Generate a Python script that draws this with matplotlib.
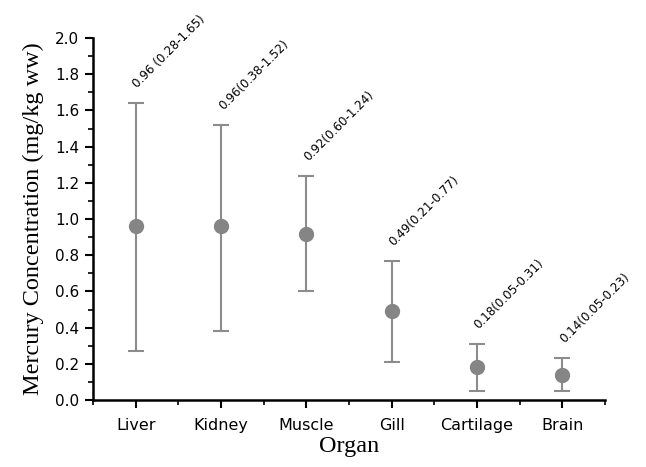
import numpy as np
import matplotlib.pyplot as plt
from matplotlib.ticker import MultipleLocator

# organ mercury data (mg/kg ww), mean with min-max range
organs = ['Liver', 'Kidney', 'Muscle', 'Gill', 'Cartilage', 'Brain']
means = [0.96, 0.96, 0.92, 0.49, 0.18, 0.14]
lows = [0.27, 0.38, 0.60, 0.21, 0.05, 0.05]
highs = [1.64, 1.52, 1.24, 0.77, 0.31, 0.23]
labels = ['0.96 (0.28-1.65)', '0.96(0.38-1.52)', '0.92(0.60-1.24)',
          '0.49(0.21-0.77)', '0.18(0.05-0.31)', '0.14(0.05-0.23)']

x = np.arange(1, len(organs) + 1)
means = np.array(means)
yerr = [means - np.array(lows), np.array(highs) - means]

fig = plt.figure(figsize=(6.46, 4.67), dpi=100)
ax = fig.add_axes([0.144, 0.1435, 0.7925, 0.775])

ax.errorbar(x, means, yerr=yerr, fmt='o', color='#858585', ecolor='#8c8c8c',
            markersize=10, elinewidth=1.5, capsize=5.5, capthick=1.5)

for xi, hi, lab in zip(x, highs, labels):
    ax.annotate(lab, (xi, hi), xytext=(3, 9), textcoords='offset points',
                rotation=45, rotation_mode='anchor', ha='left', va='bottom',
                fontsize=8.6, family='DejaVu Sans', color='black')

ax.set_xlim(0.5, 6.5)
ax.set_ylim(0, 2.0)
ax.set_xticks(x)
ax.set_xticklabels(organs, family='DejaVu Sans', fontsize=11.5)
ax.xaxis.set_minor_locator(MultipleLocator(0.5))
ax.yaxis.set_major_locator(MultipleLocator(0.2))
ax.yaxis.set_minor_locator(MultipleLocator(0.1))
ax.set_yticklabels([f'{v:.1f}' for v in ax.get_yticks()], family='DejaVu Sans', fontsize=11)

for s in ['top', 'right']:
    ax.spines[s].set_visible(False)
for s in ['left', 'bottom']:
    ax.spines[s].set_linewidth(1.8)
ax.tick_params(which='major', direction='out', length=6, width=1.5, pad=4)
ax.tick_params(axis='x', which='major', pad=7)
ax.tick_params(which='minor', direction='out', length=3.5, width=1.2)

ax.set_xlabel('Organ', family='Liberation Serif', fontsize=17.5, labelpad=2)
ax.set_ylabel('Mercury Concentration (mg/kg ww)', family='Liberation Serif', fontsize=17.5, labelpad=8)

fig.savefig('out.png', dpi=100)
